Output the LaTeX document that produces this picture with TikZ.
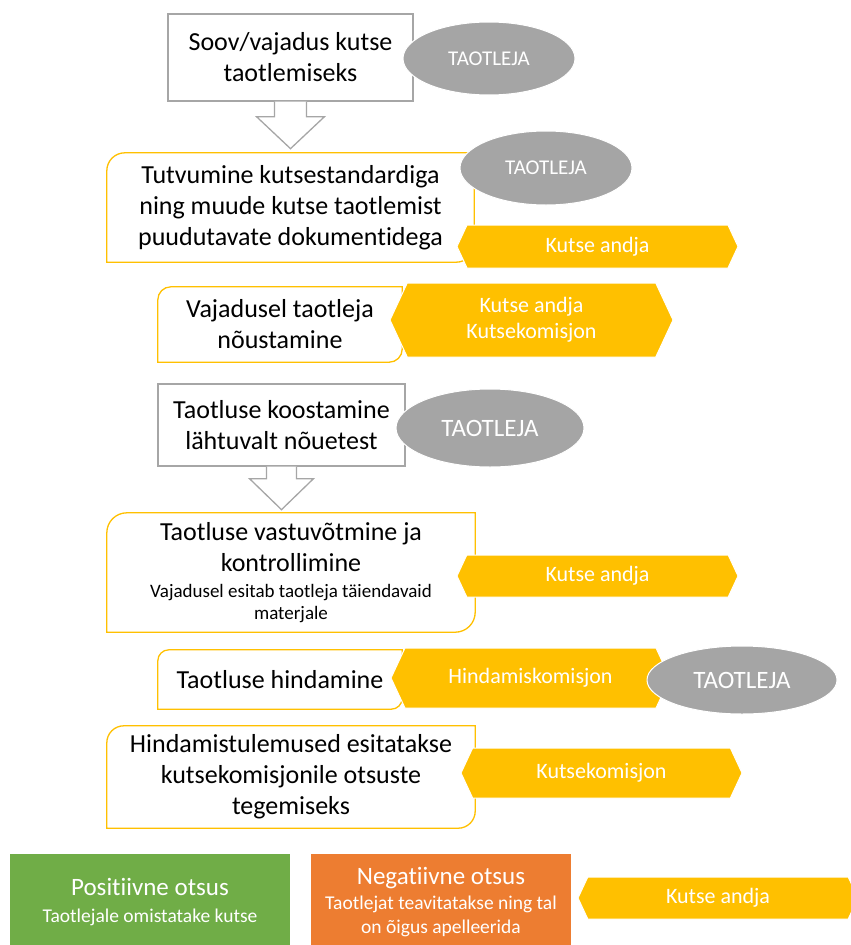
\documentclass[tikz,border=0pt]{standalone}
\usepackage{fontspec}
\setmainfont{Carlito}[Ligatures=NoCommon]
\usetikzlibrary{shapes.geometric,shapes.symbols}

\definecolor{taogray}{HTML}{A5A5A5}
\definecolor{framegray}{HTML}{A6A6A6}
\definecolor{yel}{HTML}{FFC000}
\definecolor{posgreen}{HTML}{70AD47}
\definecolor{negorange}{HTML}{ED7D31}

% frame with two rounded corners (top left, bottom right)
\newcommand{\diagframe}[2]{%
  \draw[yelline] ([yshift=-#2]#1.north west) arc[start angle=180, end angle=90, radius=#2]
    -- (#1.north east) -- ([yshift=#2]#1.south east)
    arc[start angle=0, end angle=-90, radius=#2] -- (#1.south west) -- cycle;}

\begin{document}
\begin{tikzpicture}[x=1pt, y=-1pt,
  every node/.style={inner sep=0pt, align=center},
  graybox/.style={draw=framegray, line width=1.3pt, fill=white, font=\fontsize{26}{31}\selectfont},
  yelbox/.style={fill=white, font=\fontsize{26}{31}\selectfont},
  who/.style={ellipse, fill=taogray, draw=white, line width=1pt, text=white},
  role/.style={signal, signal to=west and east, signal pointer angle=130, fill=yel, draw=white,
    line width=1pt, text=white, font=\fontsize{22}{26}\selectfont},
  hollow/.style={draw=framegray, line width=1.3pt, fill=white},
  yelline/.style={draw=yel, line width=1.3pt},
  verdict/.style={text=white, minimum width=280pt, minimum height=97pt,
    font=\fontsize{19.5}{24}\selectfont}]

\useasboundingbox (0,0) rectangle (851,945);
\clip (0,0) rectangle (851,945);

% Soov
\node[graybox, minimum width=245pt, minimum height=87pt] (soov) at (290.5,57.5)
  {Soov/vajadus kutse\\taotlemiseks};
\draw[hollow] ([xshift=-16pt]soov.south) -- ++(0,15) -- ++(-18,0) -- ++(34,32) -- ++(34,-32)
  -- ++(-18,0) -- ++(0,-15);
\node[who, minimum width=172pt, minimum height=73pt, font=\fontsize{21}{25}\selectfont]
  (tao1) at (489,58.5) {TAOTLEJA};

% Tutvumine
\node[yelbox, minimum width=367pt, minimum height=109pt] (tutv) at (290.5,207.5)
  {Tutvumine kutsestandardiga\\ning muude kutse taotlemist\\puudutavate dokumentidega};
\diagframe{tutv}{18pt}
\node[who, minimum width=172pt, minimum height=74pt, font=\fontsize{21}{25}\selectfont]
  (tao2) at (546,168) {TAOTLEJA};
\node[role, minimum width=281pt, minimum height=43pt] (andja1) at (597.5,246.5) {Kutse andja};

% Noustamine
\node[yelbox, minimum width=244pt, minimum height=75pt] (noust) at (280,324.5)
  {Vajadusel taotleja\\nõustamine};
\diagframe{noust}{13pt}
\node[role, minimum width=283pt, minimum height=74pt] (andja2) at (531.5,320)
  {Kutse andja\\Kutsekomisjon};

% Koostamine
\node[graybox, minimum width=247pt, minimum height=82pt] (koost) at (281.5,425)
  {Taotluse koostamine\\lähtuvalt nõuetest};
\draw[hollow] ([xshift=-15pt]koost.south) -- ++(0,12) -- ++(-17,0) -- ++(32,31) -- ++(32,-31)
  -- ++(-17,0) -- ++(0,-12);
\node[who, minimum width=188pt, minimum height=78pt, font=\fontsize{25}{29}\selectfont]
  (tao3) at (490,428) {TAOTLEJA};

% Vastuvotmine
\node[yelbox, minimum width=368pt, minimum height=119pt] (vastu) at (291,572.5)
  {Taotluse vastuvõtmine ja\\kontrollimine\\[-5pt]
   {\fontsize{19}{23}\selectfont Vajadusel esitab taotleja täiendavaid}\\[-9pt]
   {\fontsize{19}{23}\selectfont materjale}};
\diagframe{vastu}{20pt}
\node[role, minimum width=281pt, minimum height=42pt] (andja3) at (597.5,576) {Kutse andja};

% Hindamine
\node[yelbox, minimum width=244pt, minimum height=59pt] (hind) at (280,679.5) {Taotluse hindamine};
\diagframe{hind}{11pt}
\node[role, minimum width=279pt, minimum height=60pt] (hkom) at (530.5,678) {Hindamiskomisjon};
\node[who, minimum width=190pt, minimum height=68pt, font=\fontsize{25}{29}\selectfont]
  (tao4) at (742,680) {TAOTLEJA};

% Tulemused
\node[yelbox, minimum width=368pt, minimum height=102pt] (tulem) at (291,777)
  {Hindamistulemused esitatakse\\kutsekomisjonile otsuste\\tegemiseks};
\diagframe{tulem}{17pt}
\node[role, minimum width=281pt, minimum height=50pt] (kkom) at (601.5,773) {Kutsekomisjon};

% Otsused
\node[verdict, fill=posgreen] (pos) at (150,902.5)
  {{\fontsize{25}{28}\selectfont Positiivne otsus}\\[3pt]
   Taotlejale omistatake kutse};
\node[verdict, fill=negorange, minimum width=260pt] (neg) at (441,902.5)
  {{\fontsize{25}{28}\selectfont Negatiivne otsus}\\[1pt]
   Taotlejat teavitatakse ning tal\\
   on õigus apelleerida};
\node[role, minimum width=280pt, minimum height=42pt] (andja4) at (718,898) {Kutse andja};
\end{tikzpicture}
\end{document}
